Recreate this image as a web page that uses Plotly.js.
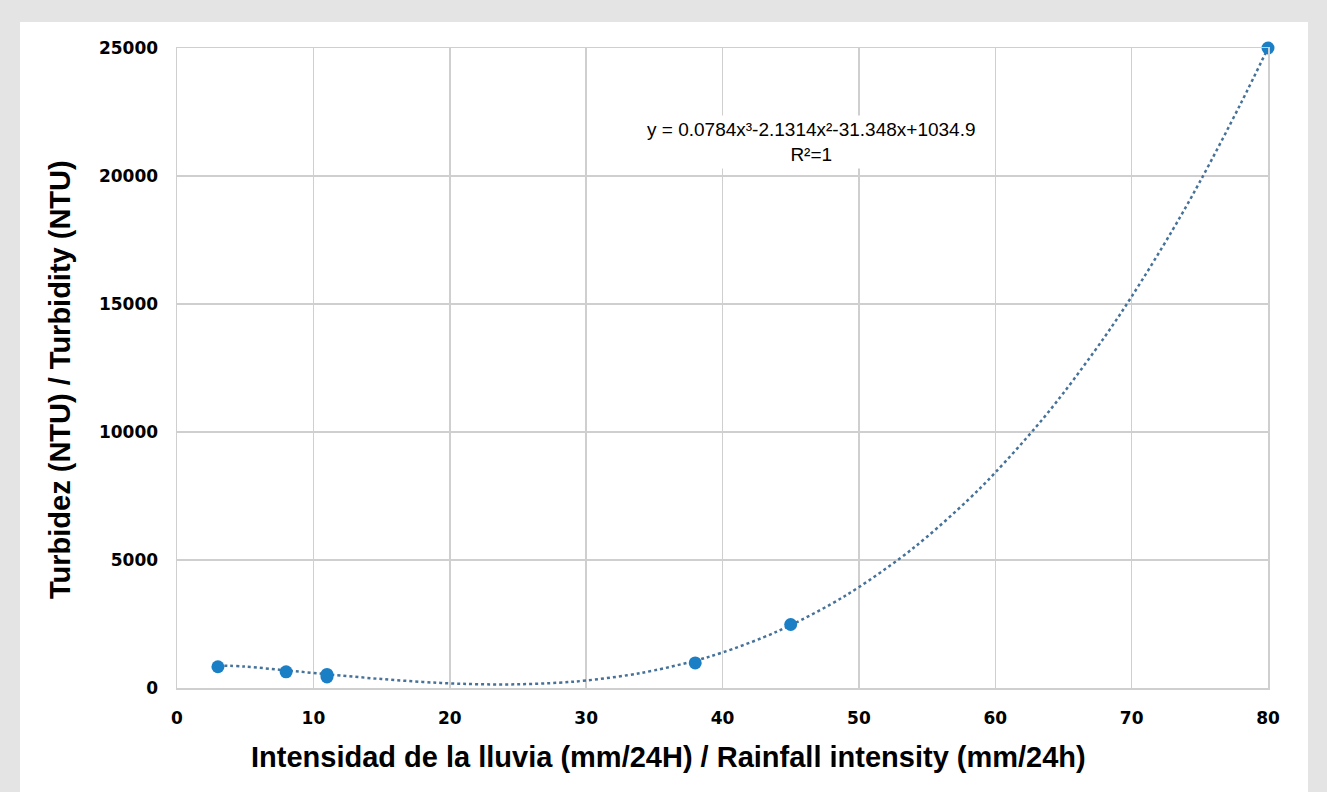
<!DOCTYPE html>
<html>
<head>
<meta charset="utf-8">
<script src="https://cdn.plot.ly/plotly-3.0.1.min.js"></script>
<style>html,body{margin:0;padding:0;background:#e4e4e4;}#chart{width:1327px;height:792px;}</style>
</head>
<body>
<div id="chart"></div>
<script>
// Measured points: rainfall intensity (mm/24h) vs turbidity (NTU)
const rainfall = [3, 8, 11, 11, 38, 45, 80];
const turbidity = [830, 630, 430, 530, 980, 2480, 25000];

// Polynomial trendline values
const trendX = [3, 5, 8, 10, 12, 15, 18, 20, 22, 25, 28, 30, 33, 35, 38, 40, 43, 45, 48, 50, 53, 55, 58, 60, 63, 65, 68, 70, 73, 75, 78, 80];
const trendY = [880, 835, 688, 587, 487, 350, 237, 182, 148, 144, 207, 293, 497, 688, 1068, 1388, 1979, 2452, 3290, 3939, 5058, 5907, 7344, 8415, 10204, 11523, 13699, 15288, 17887, 19770, 22827, 25000];

const xTicks = [0, 10, 20, 30, 40, 50, 60, 70, 80];
const yTicks = [0, 5000, 10000, 15000, 20000, 25000];

const equationText = 'y = 0.0784x³-2.1314x²-31.348x+1034.9<br>R²=1';
const xTitle = 'Intensidad de la lluvia (mm/24H) / Rainfall intensity (mm/24h)';
const yTitle = 'Turbidez (NTU) / Turbidity (NTU)';

const traces = [
  {
    x: trendX, y: trendY, type: 'scatter', mode: 'lines',
    line: {color: '#46729a', width: 2.5, dash: 'dot', shape: 'spline'},
    hoverinfo: 'skip', showlegend: false, cliponaxis: false
  },
  {
    x: rainfall, y: turbidity, type: 'scatter', mode: 'markers',
    marker: {color: '#1b7fc6', size: 13},
    showlegend: false, cliponaxis: false
  }
];

const L = 177, R = 1268, T = 48, B = 688;
const pw = R - L, ph = B - T;
const px = v => (v - L) / pw;
const py = v => (B - v) / ph;

const tickFont = {family: 'DejaVu Sans', size: 17, color: '#000', weight: 'bold'};
const titleFont = {family: 'Liberation Sans', size: 29, color: '#000', weight: 'bold'};
const gridColor = '#cfcfcf';

const layout = {
  width: 1327, height: 792,
  paper_bgcolor: '#e4e4e4',
  plot_bgcolor: '#ffffff',
  margin: {l: L, r: 1327 - R, t: T, b: 792 - B},
  xaxis: {
    range: [0, 80], tickvals: xTicks, ticktext: xTicks.map(String),
    showgrid: true, gridcolor: gridColor, gridwidth: 1.5,
    zeroline: false, showline: true, linecolor: gridColor, linewidth: 1.5, mirror: true,
    ticks: '', ticklabelstandoff: 14,
    tickfont: tickFont
  },
  yaxis: {
    range: [0, 25000], tickvals: yTicks, ticktext: yTicks.map(String),
    showgrid: true, gridcolor: gridColor, gridwidth: 1.5,
    zeroline: false, showline: true, linecolor: gridColor, linewidth: 1.5, mirror: true,
    ticks: '', ticklabelstandoff: 14,
    tickfont: tickFont
  },
  shapes: [{
    type: 'rect', xref: 'paper', yref: 'paper', layer: 'below',
    x0: px(20), x1: px(1308), y0: py(792), y1: py(22),
    fillcolor: '#ffffff', line: {width: 0}
  }],
  annotations: [
    {
      x: 46.5, y: 21330, xref: 'x', yref: 'y',
      text: equationText, showarrow: false,
      font: {family: 'Liberation Sans', size: 19, color: '#000'},
      align: 'center', xanchor: 'center', yanchor: 'middle',
      bgcolor: '#ffffff', borderpad: 3
    },
    {
      x: px(668), y: py(757), xref: 'paper', yref: 'paper',
      text: xTitle, showarrow: false, font: titleFont,
      xanchor: 'center', yanchor: 'middle'
    },
    {
      x: px(60), y: py(380), xref: 'paper', yref: 'paper',
      text: yTitle, showarrow: false, font: titleFont, textangle: -90,
      xanchor: 'center', yanchor: 'middle'
    }
  ]
};

Plotly.newPlot('chart', traces, layout, {displayModeBar: false, staticPlot: true});
</script>
</body>
</html>
